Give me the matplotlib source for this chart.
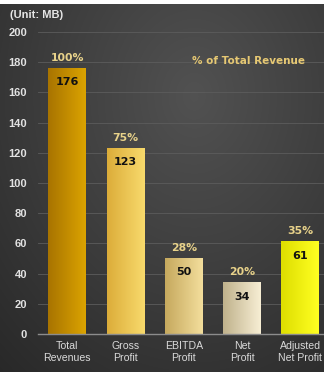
import numpy as np
import matplotlib
matplotlib.use("Agg")
import matplotlib.pyplot as plt
from matplotlib.colors import LinearSegmentedColormap

# Financial summary (million baht)
categories = ["Total\nRevenues", "Gross\nProfit", "EBITDA\nProfit", "Net\nProfit", "Adjusted\nNet Profit"]
values = [176, 123, 50, 34, 61]
pct_of_revenue = ["100%", "75%", "28%", "20%", "35%"]
yticks = [0, 20, 40, 60, 80, 100, 120, 140, 160, 180, 200]

# left -> right shading of each bar
bar_shades = [
    ("#a87400", "#dba300"),
    ("#dcad3a", "#f8da6c"),
    ("#c6a95e", "#f3de9c"),
    ("#c0b28c", "#f7eed4"),
    ("#dede00", "#ffff22"),
]

plt.rcParams["font.family"] = ["Liberation Sans", "DejaVu Sans"]
HEAVY = ["DejaVu Sans"]

W, H = 324, 372
fig = plt.figure(figsize=(W / 100, H / 100), dpi=100, facecolor="white")

# dark backdrop with soft radial light
bg = fig.add_axes([0, 0, 1, 1 - 4 / H])
bg.set_axis_off()
yy, xx = np.mgrid[0:1:300j, 0:1:300j]
r = np.sqrt(((xx - 0.6) / 0.9) ** 2 + ((yy - 0.25) / 1.0) ** 2)
shade = np.clip(0.32 - 0.16 * r, 0.15, 0.32)
bg.imshow(np.dstack([shade] * 3), aspect="auto", extent=(0, 1, 1, 0),
          interpolation="bicubic")
bg.set_xlim(0, 1)
bg.set_ylim(1, 0)

ax = fig.add_axes([38 / W, (H - 334) / H, (329.5 - 38) / W, 302 / H])
ax.set_facecolor("none")
x = np.arange(len(categories))
bars = ax.bar(x, values, width=0.65, color="none", zorder=3)

for b, (c0, c1), v, p in zip(bars, bar_shades, values, pct_of_revenue):
    cmap = LinearSegmentedColormap.from_list("shade", [c0, c1])
    x0, w, h = b.get_x(), b.get_width(), b.get_height()
    ax.imshow(np.linspace(0, 1, 64).reshape(1, -1), cmap=cmap, aspect="auto",
              extent=(x0, x0 + w, 0, h), zorder=3, interpolation="bilinear")
    cx = x0 + w / 2
    ax.annotate(p, (cx, h), xytext=(0, 7.5), textcoords="offset points",
                ha="center", va="center", fontsize=7.8, fontweight="bold",
                family=HEAVY, color="#e8d28a", zorder=5)
    ax.annotate(str(v), (cx, h), xytext=(0, -10), textcoords="offset points",
                ha="center", va="center", fontsize=8, fontweight="bold",
                family=HEAVY, color="#111111", zorder=5)

ax.set_xlim(-0.5, len(categories) - 0.5)
ax.set_ylim(0, 200)
ax.set_yticks(yticks)
ax.set_yticklabels([str(t) for t in yticks], fontsize=8, fontweight="bold",
                   color="#e2e2e2")
ax.set_xticks(x)
ax.set_xticklabels(categories, fontsize=7.6, color="#dadada", linespacing=1.25)
ax.tick_params(axis="both", length=0)
ax.tick_params(axis="y", pad=8)
ax.tick_params(axis="x", pad=5)
for s in ["top", "right", "left"]:
    ax.spines[s].set_visible(False)
ax.spines["bottom"].set_color("#8c8c8c")
ax.spines["bottom"].set_linewidth(1.0)
ax.spines["bottom"].set_zorder(4)
ax.yaxis.grid(True, color="#5c5c5c", linewidth=0.6, zorder=0)
ax.set_axisbelow(True)

fig.text(10 / W, 1 - 15 / H, "(Unit: MB)", fontsize=8, fontweight="bold",
         color="#e6e6e6", ha="left", va="center")
fig.text(248 / W, 1 - 61 / H, "% of Total Revenue", fontsize=7.5,
         fontweight="bold", family=HEAVY, color="#e6c873",
         ha="center", va="center")

fig.savefig("out.png", dpi=100, facecolor=fig.get_facecolor())
